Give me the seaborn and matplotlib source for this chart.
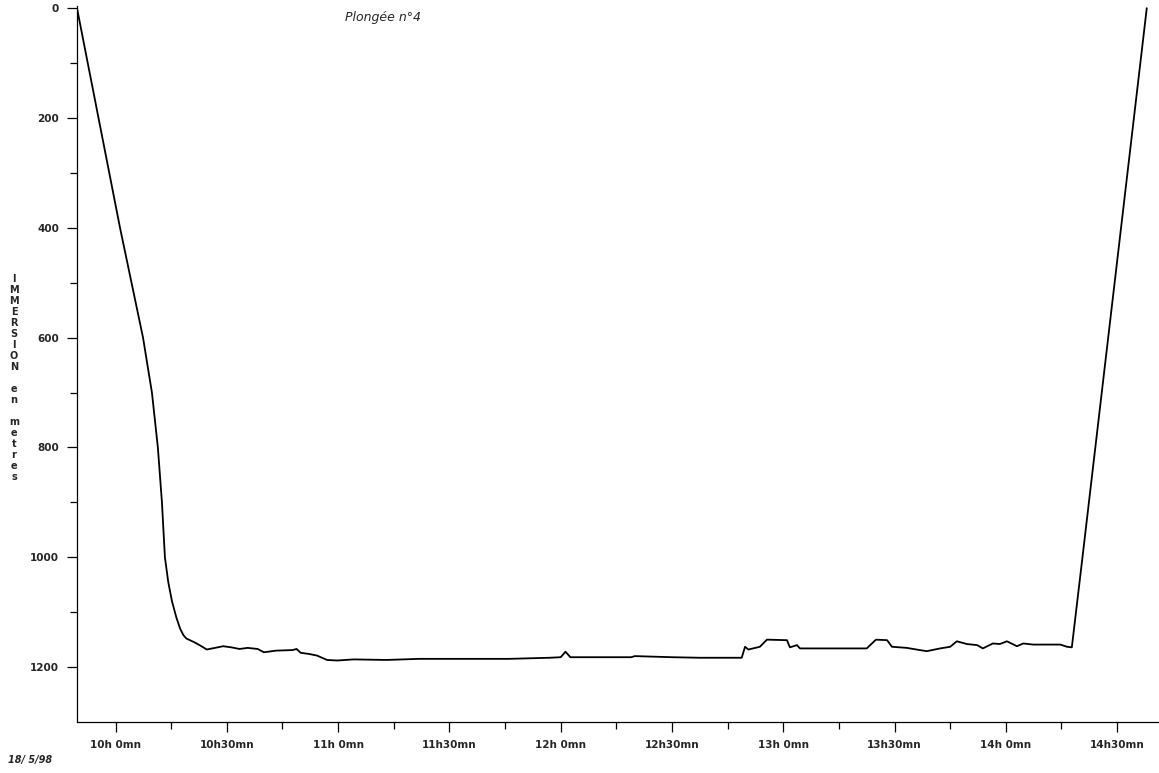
import matplotlib
matplotlib.use("Agg")
import matplotlib.pyplot as plt
import seaborn as sns
import pandas as pd

# Dive profile: minutes after 10h00 and immersion depth in metres
minutes = [-10.4, 1.2, 4.3, 7.4, 9.8, 11.4, 12.5, 13.3, 14.2, 15.2,
           16.4, 17.4, 18.3, 19.1, 21.3, 22.9, 24.6, 26.8, 29.0, 31.2, 33.4,
           35.6, 38.3, 40.0, 43.3, 47.7, 48.8, 49.9, 52.1, 54.3, 57.0, 59.8,
           64.2, 73.0, 81.8, 95.0, 106.0, 117.0, 120.0, 121.3, 122.6, 139.0,
           140.0, 150.0, 157.5, 166.4, 168.8, 169.7, 170.6, 173.7, 175.6,
           181.0, 181.8, 183.7, 184.5, 197.0, 202.5, 205.0, 208.0, 209.3,
           213.3, 216.8, 218.7, 222.3, 225.0, 226.8, 229.5, 232.3, 233.8,
           236.5, 238.4, 240.3, 243.0, 244.7, 247.4, 254.7, 256.5, 257.8,
           260.6, 278.0]
depth = [0, 400, 500, 600, 700, 800, 900, 1000, 1045, 1080,
         1110, 1130, 1142, 1148, 1155, 1161, 1168, 1165, 1162, 1164, 1167,
         1165, 1167, 1173, 1170, 1169, 1167, 1174, 1176, 1179, 1187, 1188,
         1186, 1187, 1185, 1185, 1185, 1183, 1182, 1172, 1182, 1182,
         1180, 1182, 1183, 1183, 1183, 1163, 1168, 1163, 1150,
         1151, 1164, 1160, 1166, 1166, 1166, 1150, 1151, 1163,
         1165, 1169, 1171, 1166, 1163, 1153, 1158, 1160, 1166,
         1157, 1158, 1153, 1162, 1157, 1159, 1159, 1163, 1164,
         1004, 0]

# Axis ticks
hour_ticks = [0, 30, 60, 90, 120, 150, 180, 210, 240, 270]
hour_labels = ["10h 0mn", "10h30mn", "11h 0mn", "11h30mn", "12h 0mn",
               "12h30mn", "13h 0mn", "13h30mn", "14h 0mn", "14h30mn"]
quarter_ticks = [15, 45, 75, 105, 135, 165, 195, 225, 255]
depth_ticks = [0, 200, 400, 600, 800, 1000, 1200]
depth_minor = [100, 300, 500, 700, 900, 1100]

ylabel_text = "IMMERSION en metres"
title_text = "Plongée n°4"
date_text = "18/ 5/98"

sns.set_style("ticks")
plt.rcParams["font.family"] = ["DejaVu Sans"]

fig = plt.figure(figsize=(11.59, 7.73), dpi=100)
ax = fig.add_axes([77 / 1159, 51 / 773, 1 - 77 / 1159, (722 - 6) / 773])

df = pd.DataFrame({"t": minutes, "d": depth})
sns.lineplot(data=df, x="t", y="d", ax=ax, color="black", linewidth=1.3,
             estimator=None, sort=False)

ax.set_xlim(-10.4, 281.3)
ax.set_ylim(1300, -4)

ax.set_xticks(hour_ticks)
ax.set_xticklabels(hour_labels)
ax.set_xticks(quarter_ticks, minor=True)
ax.set_yticks(depth_ticks)
ax.set_yticklabels([str(v) for v in depth_ticks])
ax.set_yticks(depth_minor, minor=True)

ax.tick_params(axis="both", which="major", direction="out", length=7,
               width=0.9, color="black", labelsize=7.5, pad=6)
ax.tick_params(axis="both", which="minor", direction="out", length=5,
               width=0.9, color="black")
for lbl in ax.get_xticklabels() + ax.get_yticklabels():
    lbl.set_fontweight("bold")

for side in ("top", "right"):
    ax.spines[side].set_visible(False)
for side in ("left", "bottom"):
    ax.spines[side].set_linewidth(0.9)
    ax.spines[side].set_color("black")

ax.set_xlabel("")
ax.set_ylabel("")

# Vertical stacked axis title, one upright letter per line
fig.text(14 / 1159, 1 - 378 / 773, "\n".join(ylabel_text),
         ha="center", va="center", fontsize=7, fontweight="bold",
         linespacing=1.12)

fig.text(345 / 1159, 1 - 18 / 773, title_text, ha="left", va="center",
         fontsize=9, style="italic")

fig.text(8 / 1159, 1 - 760 / 773, date_text, ha="left", va="center",
         fontsize=7, style="italic", fontweight="bold")

fig.savefig("out.png", dpi=100)
